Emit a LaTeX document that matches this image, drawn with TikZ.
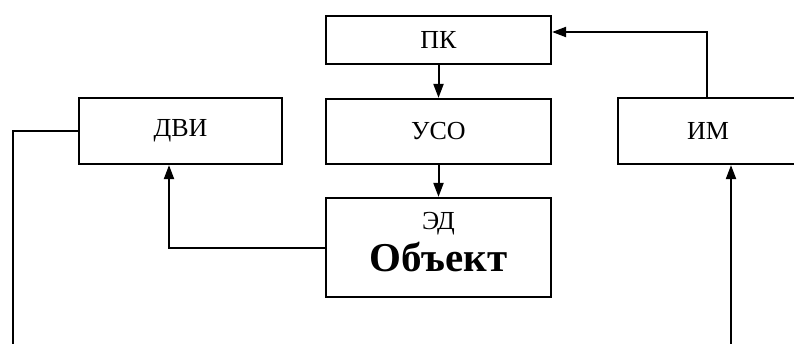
\documentclass[tikz,border=0pt]{standalone}
\usepackage{fontspec}
\setmainfont{Liberation Serif}
\usetikzlibrary{arrows.meta}
\begin{document}
\begin{tikzpicture}[x=1pt,y=-1pt,
  blk/.style={draw,line width=2.2pt,rectangle,inner sep=0pt,anchor=center},
  lbl/.style={inner sep=0pt,font=\fontsize{26}{30}\selectfont},
  big/.style={inner sep=0pt,font=\fontsize{41}{46}\selectfont\bfseries},
  conn/.style={line width=2pt},
  arr/.style={conn,-{Triangle[length=14pt,width=10pt]}}]
\useasboundingbox (0,0) rectangle (794,343);
\node[blk,minimum width=225pt,minimum height=48pt] (pk) at (438.5,40) {};
\node[lbl] (pkt) at (pk.center) {ПК};
\node[blk,minimum width=225pt,minimum height=65pt] (uso) at (438.5,131.5) {};
\node[lbl] (usot) at (uso.center) {УСО};
\node[blk,minimum width=203pt,minimum height=66pt] (dvi) at (180.5,131) {};
\node[lbl] (dvit) at (dvi.center) {ДВИ};
\node[blk,minimum width=190pt,minimum height=66pt] (im) at (713,131) {};
\node[lbl] (imt) at (708,131) {ИМ};
\node[blk,minimum width=225pt,minimum height=99pt] (ed) at (438.5,247.5) {};
\node[lbl] (edt) at (438.5,224) {ЭД};
\node[big] (obj) at (438.5,257) {Объект};
\coordinate (c1) at (169,248);
\coordinate (c2) at (707,32);
\coordinate (c3) at (13,345);
\coordinate (c4) at (731,345);
\draw[arr] (pk.south) -- (uso.north);
\draw[arr] (uso.south) -- (ed.north);
\draw[arr] (ed.west |- c1) -- (c1) -- (dvi.south -| c1);
\draw[arr] (im.north -| c2) -- (c2) -- (pk.east |- c2);
\draw[conn] (dvi.west) -| (c3);
\draw[arr] (c4) -- (im.south -| c4);
\end{tikzpicture}
\end{document}
